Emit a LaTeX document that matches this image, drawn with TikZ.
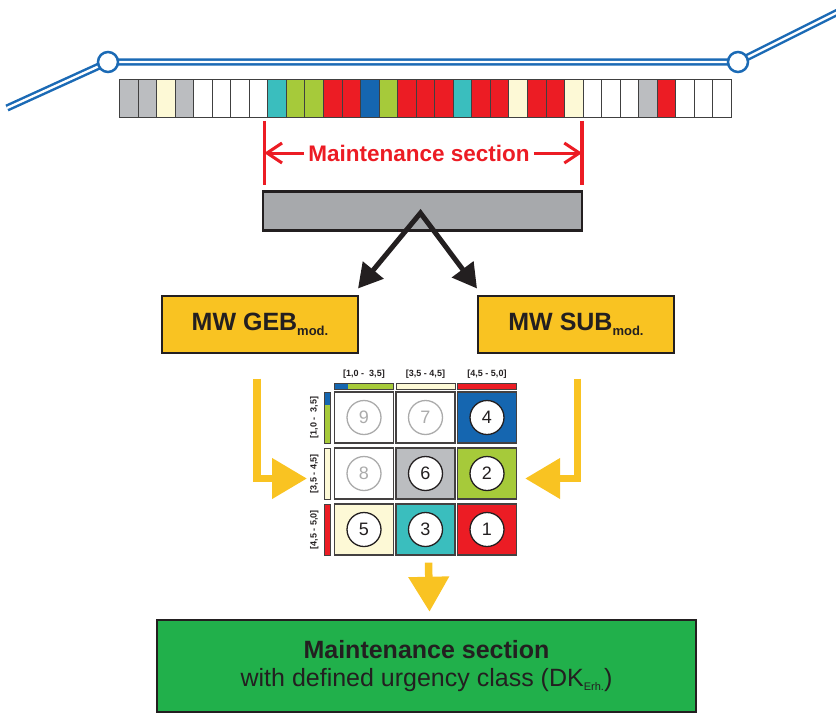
\documentclass[tikz,border=0pt]{standalone}
\usepackage{fontspec}
\setmainfont{Liberation Sans}
\usetikzlibrary{calc,positioning,arrows.meta}

\definecolor{trackblue}{RGB}{27,106,181}
\definecolor{outline}{RGB}{35,31,32}
\definecolor{sgray}{RGB}{187,189,192}
\definecolor{scream}{RGB}{253,249,214}
\definecolor{steal}{RGB}{58,190,190}
\definecolor{slime}{RGB}{166,202,58}
\definecolor{sred}{RGB}{236,28,36}
\definecolor{sblue}{RGB}{21,102,176}
\definecolor{mwyellow}{RGB}{249,195,34}
\definecolor{bargray}{RGB}{167,169,172}
\definecolor{okgreen}{RGB}{33,176,75}

\begin{document}
\begin{tikzpicture}[
    x=1pt, y=-1pt,
    track/.style={draw=trackblue, line width=2.5pt, double=white, double distance=2.3pt},
    station/.style={circle, draw=trackblue, line width=2.5pt, fill=white, minimum size=20pt, inner sep=0pt},
    seg/.style={draw=black!75, line width=0.9pt, minimum width=18.545pt, minimum height=38pt, inner sep=0pt, anchor=north west},
    redline/.style={draw=sred, line width=3.5pt},
    redarrow/.style={draw=sred, line width=3pt, -{Straight Barb[length=15pt,width=20pt]}},
    mwbox/.style={draw=outline, line width=2pt, fill=mwyellow, minimum width=196pt, minimum height=57pt, font=\fontsize{25}{25}\selectfont\bfseries, text=outline},
    fork/.style={draw=outline, line width=5pt, {Triangle[length=24pt,width=26pt]}-{Triangle[length=24pt,width=26pt]}},
    cell/.style={draw=outline!85, line width=1.3pt, minimum width=59pt, minimum height=51pt, inner sep=0pt},
    num/.style={circle, draw=outline, line width=1.3pt, fill=white, minimum size=34pt, inner sep=0pt, font=\fontsize{18}{18}\selectfont, text=outline},
    numgray/.style={num, draw=black!33, text=black!33},
    catbar/.style={draw=outline!85, line width=0.7pt, inner sep=0pt},
    catlabel/.style={font=\fontsize{9}{9}\selectfont\bfseries, text=outline, inner sep=1pt},
    yarrow/.style={draw=mwyellow, line width=7.5pt, -{Triangle[length=35pt,width=39pt]}},
 ]
    \useasboundingbox (0,0) rectangle (836,713);

    % track with the two stations
    \coordinate (TL) at (7,108);
    \coordinate (TR) at (846,8);
    \coordinate (S1) at (108,62);
    \coordinate (S2) at (738,62);
    \draw[track] (TL) -- (S1) -- (S2) -- (TR);
    \node[station] (st1) at (S1) {};
    \node[station] (st2) at (S2) {};

    % condition segments
    \foreach \c [count=\i] in {sgray,sgray,scream,sgray,white,white,white,white,steal,slime,slime,sred,sred,sblue,slime,sred,sred,sred,steal,sred,sred,scream,sred,sred,scream,white,white,white,sgray,sred,white,white,white}
        \node[seg, fill=\c] (seg\i) at ({119+(\i-1)*18.545},79) {};

    % maintenance section
    \coordinate (ML) at ($(seg9.south west)+(-3,3)$);
    \coordinate (MR) at ($(seg25.south east)+(-1.5,3)$);
    \draw[redline] (ML) -- ++(0,64);
    \draw[redline] (MR) -- ++(0,64);
    \node[font=\fontsize{22.5}{22.5}\selectfont\bfseries, text=sred, inner sep=4pt] (title) at (419,153) {Maintenance section};
    \draw[redarrow] (title.west) -- (ML |- title.west);
    \draw[redarrow] (title.east) -- (MR |- title.east);

    \node[draw=outline, line width=2.5pt, fill=bargray, minimum width=319pt, minimum height=39pt, inner sep=0pt] (bar) at (422.5,211) {};
    \coordinate (apex) at ($(bar.center)+(-2,2)$);

    \node[mwbox] (geb) at (260,324) {MW GEB\raisebox{-5pt}{\fontsize{13}{13}\selectfont mod.}};
    \node[mwbox, right=118pt of geb] (sub) {MW SUB\raisebox{-5pt}{\fontsize{13}{13}\selectfont mod.}};
    \draw[fork] ($(geb.north east)+(-1,-6)$) -- (apex) -- ($(sub.north west)+(0,-6)$);

    % urgency matrix
    \foreach \row/\col/\fc/\n/\st in {1/1/white/9/numgray, 1/2/white/7/numgray, 1/3/sblue/4/num,
                                      2/1/white/8/numgray, 2/2/sgray/6/num, 2/3/slime/2/num,
                                      3/1/scream/5/num, 3/2/steal/3/num, 3/3/sred/1/num} {
        \node[cell, fill=\fc] (c\row\col) at ({364+(\col-1)*61.5},{417.5+(\row-1)*56}) {};
        \node[\st] (n\row\col) at (c\row\col) {\n};
    }

    \node[catbar, fill=slime, minimum width=59pt, minimum height=6pt,
        path picture={\fill[sblue] (path picture bounding box.north west) rectangle ($(path picture bounding box.south west)+(13,0)$);}]
        (hb1) at ($(c11.north)+(0,-5)$) {};
    \node[catbar, fill=scream, minimum width=59pt, minimum height=6pt] (hb2) at ($(c12.north)+(0,-5)$) {};
    \node[catbar, fill=sred, minimum width=59pt, minimum height=6pt] (hb3) at ($(c13.north)+(0,-5)$) {};
    \node[catbar, fill=slime, minimum width=6pt, minimum height=51pt,
        path picture={\fill[sblue] (path picture bounding box.north west) rectangle ($(path picture bounding box.north east)+(0,13)$);}]
        (vb1) at ($(c11.west)+(-6.5,0)$) {};
    \node[catbar, fill=scream, minimum width=6pt, minimum height=51pt] (vb2) at ($(c21.west)+(-6.5,0)$) {};
    \node[catbar, fill=sred, minimum width=6pt, minimum height=51pt] (vb3) at ($(c31.west)+(-6.5,0)$) {};

    \foreach \k/\txt in {1/{[1,0 - \ 3,5]}, 2/{[3,5 - 4,5]}, 3/{[4,5 - 5,0]}} {
        \node[catlabel] (hl\k) at ($(hb\k)+(0,-12)$) {\txt};
        \node[catlabel, rotate=90] (vl\k) at ($(vb\k)+(-13,0)$) {\txt};
    }

    % yellow flows
    \coordinate (yl) at ($(geb.south)+(-3,25)$);
    \coordinate (yr) at ($(sub.south)+(1.5,25)$);
    \draw[yarrow] (yl) |- ($(vb2.west)+(-17,5)$);
    \draw[yarrow] (yr) |- ($(c23.east)+(8,5)$);

    \node[draw=outline, line width=2.5pt, fill=okgreen, minimum width=539pt, minimum height=92pt, align=center,
        font=\fontsize{25}{28}\selectfont, text=outline] (final) at (426.5,666)
        {{\bfseries Maintenance section}\\with defined urgency class (DK\raisebox{-4pt}{\fontsize{11}{11}\selectfont Erh.})};
    \draw[yarrow] ($(c32.south)+(3,7)$) -- ($(final.north)+(3,-7)$);

\end{tikzpicture}
\end{document}
